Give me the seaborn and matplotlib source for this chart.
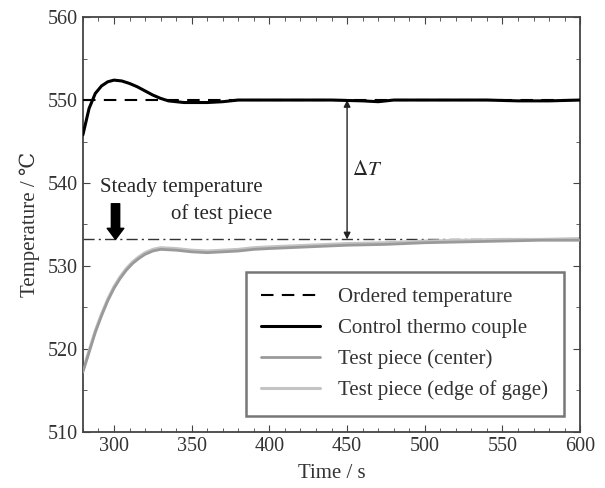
import numpy as np
import pandas as pd
import matplotlib
matplotlib.use('Agg')
import matplotlib.pyplot as plt
from matplotlib.ticker import MultipleLocator
import seaborn as sns

# Values
ordered_time = [280, 600]
ordered_temp = [550.0, 550.0]

control_time = [280, 284, 288, 292, 296, 300, 305, 310, 315, 320, 325, 330,
                335, 340, 345, 350, 360, 370, 380, 390, 400, 420, 440, 460,
                470, 480, 500, 520, 540, 560, 580, 600]
control_temp = [545.8, 549.0, 550.8, 551.7, 552.2, 552.4, 552.3, 552.0, 551.6,
                551.1, 550.6, 550.2, 549.9, 549.8, 549.7, 549.7, 549.7, 549.8,
                550.0, 550.0, 550.0, 550.0, 550.0, 549.9, 549.8, 550.0, 550.0,
                550.0, 550.0, 549.9, 549.9, 550.0]

piece_time = [280, 284, 288, 292, 296, 300, 304, 308, 312, 316, 320, 325, 330,
              340, 350, 360, 370, 380, 390, 400, 425, 450, 475, 500, 525, 550,
              575, 600]
center_temp = [517.2, 519.6, 522.0, 524.0, 525.8, 527.3, 528.5, 529.5, 530.3,
               530.9, 531.4, 531.8, 532.0, 531.9, 531.7, 531.6, 531.7, 531.8,
               532.0, 532.1, 532.3, 532.5, 532.6, 532.8, 532.9, 533.0, 533.1,
               533.1]
edge_temp = [517.4, 519.8, 522.2, 524.2, 526.0, 527.5, 528.7, 529.7, 530.5,
             531.1, 531.6, 532.0, 532.2, 532.1, 531.9, 531.8, 531.9, 532.0,
             532.2, 532.3, 532.5, 532.7, 532.8, 533.0, 533.1, 533.2, 533.2,
             533.3]

steady_temp = 533.2
delta_t_time = 450

sns.set_style('ticks')
plt.rcParams['font.family'] = ['Liberation Serif', 'DejaVu Serif']
plt.rcParams['mathtext.fontset'] = 'stix'

fig = plt.figure(figsize=(6.05, 4.88), dpi=100)
ax = fig.add_axes([0.137, 0.115, 0.822, 0.85])

ax.axhline(steady_temp, color='#333333', lw=1.0, ls=(0, (8, 3, 1.5, 3)), zorder=1)

sns.lineplot(x=piece_time, y=edge_temp, ax=ax, color='#c4c4c4', lw=2.2,
             label='Test piece (edge of gage)', zorder=2)
sns.lineplot(x=piece_time, y=center_temp, ax=ax, color='#9a9a9a', lw=2.0,
             label='Test piece (center)', zorder=3)
sns.lineplot(x=control_time, y=control_temp, ax=ax, color='black', lw=2.2,
             label='Control thermo couple', zorder=4)
sns.lineplot(x=ordered_time, y=ordered_temp, ax=ax, color='black', lw=1.5,
             ls=(0, (6, 4)), label='Ordered temperature', zorder=5)

# delta T arrow
ax.annotate('', xy=(delta_t_time, steady_temp), xytext=(delta_t_time, 550),
            arrowprops=dict(arrowstyle='<|-|>', color='#222222', lw=1.0,
                            mutation_scale=10, shrinkA=0, shrinkB=0))
ax.text(delta_t_time + 3, 541.5, r'$\Delta T$', fontsize=15, va='center')

# steady temperature arrow
ax.annotate('', xy=(301, steady_temp), xytext=(301, 537.5),
            arrowprops=dict(arrowstyle='simple,head_width=1.2,head_length=0.8,tail_width=0.6',
                            color='black', shrinkA=0, shrinkB=0))
ax.text(291, 539.4, 'Steady temperature', fontsize=15, va='center')
ax.text(402, 536.3, 'of test piece', fontsize=15, va='center', ha='right')

ax.set_xlim(280, 600)
ax.set_ylim(510, 560)
ax.xaxis.set_major_locator(MultipleLocator(50))
ax.xaxis.set_minor_locator(MultipleLocator(10))
ax.yaxis.set_major_locator(MultipleLocator(10))
ax.yaxis.set_minor_locator(MultipleLocator(5))
ax.tick_params(which='both', direction='in', top=True, right=True, labelsize=14.5,
               color='#444444', labelcolor='#333333')
ax.tick_params(which='major', length=5)
ax.tick_params(which='minor', length=3)
for s in ax.spines.values():
    s.set_color('#444444')
    s.set_linewidth(1.3)

ax.set_xlabel('Time / s', fontsize=15, color='#333333', labelpad=6)
ax.set_ylabel('Temperature / \u2103', fontsize=15, color='#333333', labelpad=6)

handles, labels = ax.get_legend_handles_labels()
order = [3, 2, 1, 0]
leg = ax.legend([handles[i] for i in order], [labels[i] for i in order],
                loc='lower right', bbox_to_anchor=(0.976, 0.028), fontsize=15,
                frameon=True, fancybox=False, handlelength=2.8,
                borderpad=0.75, labelspacing=0.55, handletextpad=0.9,
                borderaxespad=0.2)
leg.get_frame().set_edgecolor('#555555')
leg.get_frame().set_linewidth(1.8)
for t in leg.get_texts():
    t.set_color('#333333')

fig.savefig('out.png', dpi=100)
